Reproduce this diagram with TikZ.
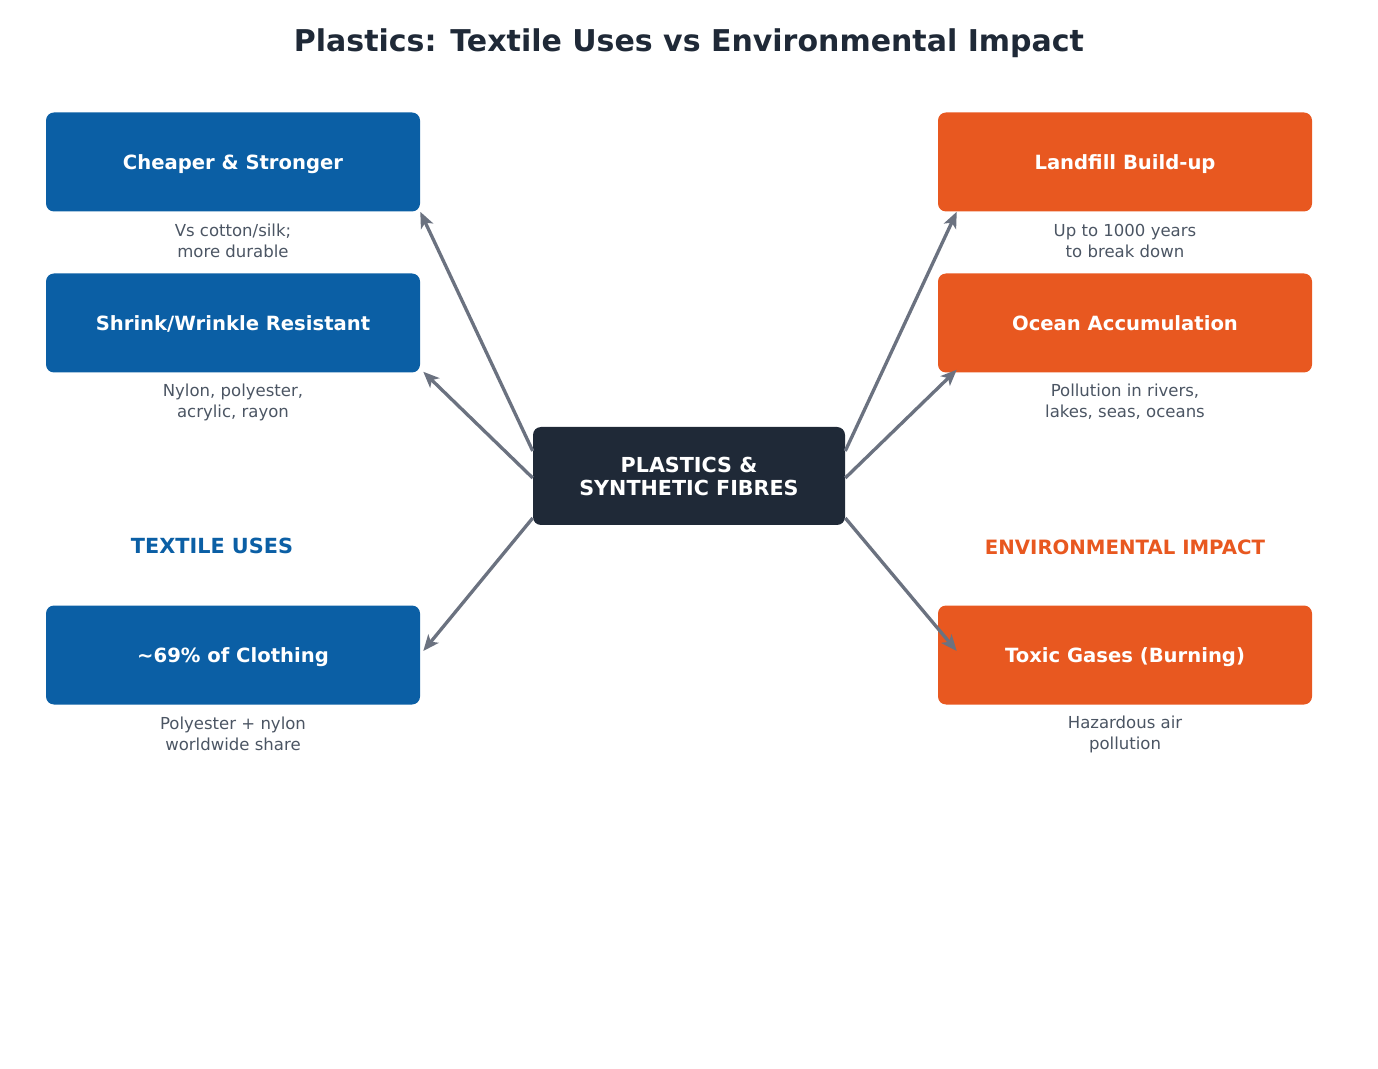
\documentclass[tikz,border=0pt]{standalone}
\usepackage{fontspec}
\setmainfont{DejaVu Sans}
\usepackage{xcolor}
\usetikzlibrary{arrows.meta, positioning, calc}

\definecolor{usesblue}{HTML}{0B5FA5}
\definecolor{impactorange}{HTML}{E85820}
\definecolor{coredark}{HTML}{1F2937}
\definecolor{linkgray}{HTML}{6B7280}
\definecolor{notegray}{HTML}{4B5563}

\begin{document}
\begin{tikzpicture}[x=0.75pt, y=-0.75pt,
  card/.style={rounded corners=6pt, minimum width=280.5pt, minimum height=74.25pt, text=white,
    text height=10.7pt, text depth=0pt, font=\fontsize{14.7}{17}\selectfont\bfseries},
  usecard/.style={card, fill=usesblue},
  impactcard/.style={card, fill=impactorange},
  note/.style={align=center, text=notegray, font=\fontsize{12.4}{15.75}\selectfont},
  link/.style={-{Stealth[length=12pt, width=10pt, inset=3pt]}, line width=2.5pt, linkgray}]
\useasboundingbox (0,0) rectangle (1378,1069);

% Title
\node[text=coredark, font=\fontsize{22.5}{26}\selectfont\bfseries] (title) at (689,43) {Plastics: Textile Uses vs Environmental Impact};

% Centre
\node[rounded corners=6pt, fill=coredark, minimum width=234pt, minimum height=73.5pt, align=center,
  text=white, font=\fontsize{15.5}{17.25}\selectfont\bfseries] (core) at (689,476) {PLASTICS \&\\SYNTHETIC FIBRES};

% Textile uses
\node[usecard] (cheap) at (233,162) {Cheaper \& Stronger};
\node[note] (cheapnote) at (233,241) {Vs cotton/silk;\\more durable};
\node[usecard] (shrink) at (233,323) {Shrink/Wrinkle Resistant};
\node[note] (shrinknote) at (233,402) {Nylon, polyester,\\acrylic, rayon};
\node[text=usesblue, font=\fontsize{15.6}{18}\selectfont\bfseries] (useslabel) at (212,546) {TEXTILE USES};
\node[usecard] (clothing) at (233,655) {\textasciitilde 69\% of Clothing};
\node[note] (clothingnote) at (233,734) {Polyester + nylon\\worldwide share};

% Environmental impact
\node[impactcard] (landfill) at (1125,162) {Landfill Build-up};
\node[note] (landfillnote) at (1125,241) {Up to 1000 years\\to break down};
\node[impactcard] (ocean) at (1125,323) {Ocean Accumulation};
\node[note] (oceannote) at (1125,402) {Pollution in rivers,\\lakes, seas, oceans};
\node[text=impactorange, font=\fontsize{14.8}{17}\selectfont\bfseries] (impactlabel) at (1125,547) {ENVIRONMENTAL IMPACT};
\node[impactcard] (toxic) at (1125,655) {Toxic Gases (Burning)};
\node[note] (toxicnote) at (1125,734) {Hazardous air\\pollution};

% Links
\draw[link] ($(core.west)+(0,-25)$) -- (cheap.south east);
\draw[link] ($(core.west)+(0,2)$) -- ($(shrink.south east)+(3,-1)$);
\draw[link] ($(core.west)+(0,42)$) -- ($(clothing.east)+(3,-4)$);
\draw[link] ($(core.east)+(0,-25)$) -- ($(landfill.south west)+(19,0)$);
\draw[link] ($(core.east)+(0,2)$) -- ($(ocean.south west)+(19,-3)$);
\draw[link] ($(core.east)+(0,42)$) -- ($(toxic.west)+(19,-4)$);

\end{tikzpicture}
\end{document}
